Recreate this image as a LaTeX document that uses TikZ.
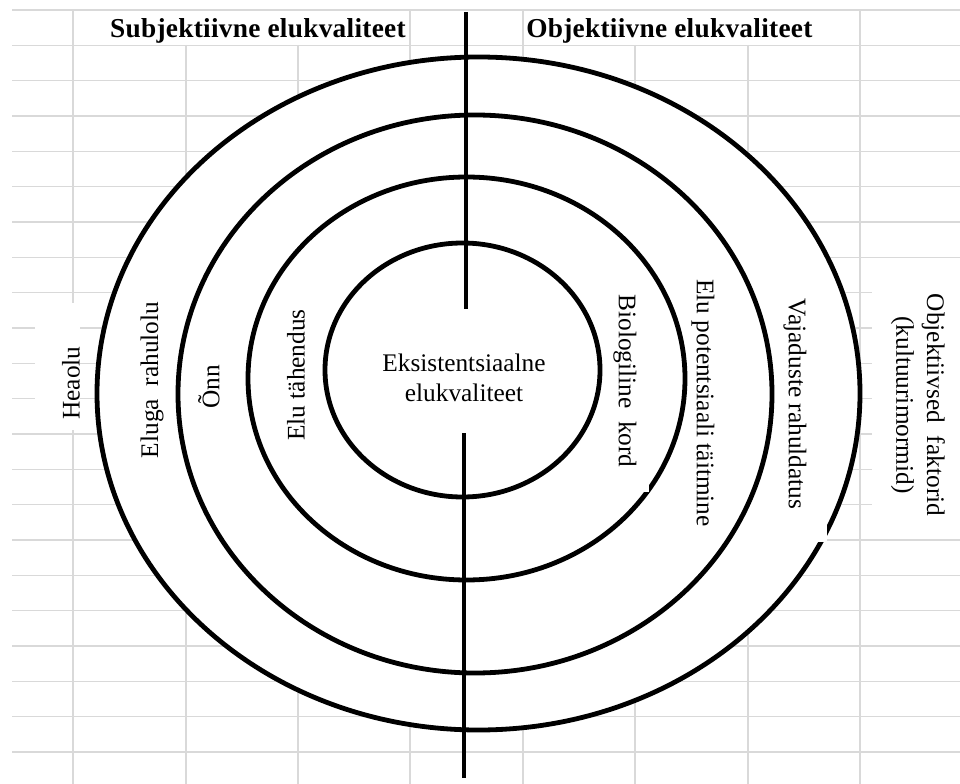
\documentclass[tikz,border=0pt]{standalone}
\usepackage{fontspec}
\setmainfont{Liberation Serif}
\newfontfamily\titlefont[LetterSpace=1]{Liberation Serif}
\usepackage{tikz}
\pgfdeclarelayer{background}
\pgfsetlayers{background,main}
\definecolor{gridgrey}{HTML}{D9D9D9}
\tikzset{
  ring/.style={line width=3.6pt,black},
  gridline/.style={line width=1.1pt,gridgrey},
  lbl/.style={font=\fontsize{19}{23}\selectfont,align=center,inner sep=1pt},
  sidetitle/.style={font=\titlefont\bfseries\fontsize{20.5}{24}\selectfont,inner sep=0pt}
}
\begin{document}
\begin{tikzpicture}[x=0.75pt,y=-0.75pt]
  \useasboundingbox (0,0) rectangle (960,784);

  \node[sidetitle,anchor=east] (subj) at (406,31) {Subjektiivne elukvaliteet};
  \node[sidetitle,anchor=west] (obj) at (526,31) {Objektiivne elukvaliteet};

  \draw[ring] (478.5,393.5) ellipse [x radius=381.5, y radius=336.5];
  \draw[ring] (475,394) ellipse [x radius=297, y radius=279];
  \draw[ring] (466.5,378.5) ellipse [x radius=218.5, y radius=201.5];
  \draw[ring] (462.5,370) ellipse [x radius=137.5, y radius=127];
  % small breaks in the rings
  \fill[white] (790,480) rectangle (827,542);
  \fill[white] (612,470) rectangle (649,492);

  \coordinate (divTop) at (466,12);
  \coordinate (divTopEnd) at (466,309);
  \coordinate (divBot) at (464,433);
  \coordinate (divBotEnd) at (464,778);
  \draw[line width=3.6pt] (divTop) -- (divTopEnd);
  \draw[line width=3pt] (divBot) -- (divBotEnd);

  \node[lbl,rotate=90] (heaolu) at (71,383) {Heaolu};
  \node[lbl,rotate=90] (rahulolu) at (152,380) {Eluga\ \ rahulolu};
  \node[lbl,rotate=90] (onn) at (209,387) {Õnn};
  \node[lbl,rotate=90] (tahendus) at (296,375) {Elu tähendus};
  \node[lbl] (core) at (464,378) {Eksistentsiaalne\\elukvaliteet};
  \node[lbl,rotate=-90] (kord) at (625,381) {Biologiline\ \ kord};
  \node[lbl,rotate=-90] (potents) at (703,403) {Elu potentsiaali täitmine};
  \node[lbl,rotate=-90] (vajadus) at (795,404) {Vajaduste rahuldatus};
  \node[lbl,rotate=-90] (faktorid) at (918,405) {Objektiivsed\ \ faktorid\\(kultuurimormid)};

 \begin{pgfonlayer}{background}
    \foreach \k in {0,...,21}
      \draw[gridline] (12,{10+35.33*\k}) -- (960,{10+35.33*\k});
    \foreach \x in {73,410,523,860}
      \draw[gridline] (\x,10) -- (\x,784);
    \foreach \x in {186,298,635,748}
      \draw[gridline] (\x,45) -- (\x,784);
    \fill[white] (35,303) rectangle (80,430);
    \fill[white] (872,275) rectangle (960,525);
    \fill[white] (478.5,393.5) ellipse [x radius=381.5, y radius=336.5];
  \end{pgfonlayer}
\end{tikzpicture}
\end{document}
